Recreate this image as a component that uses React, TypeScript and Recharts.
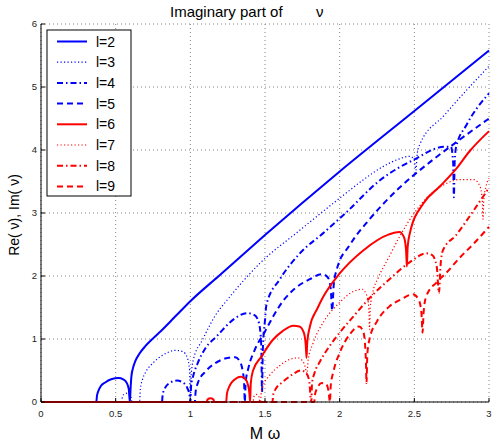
import React from "react";
import { LineChart, Line, XAxis, YAxis, CartesianGrid } from "recharts";

// axis ticks
const xTicks = [0, 0.5, 1, 1.5, 2, 2.5, 3];
const yTicks = [0, 1, 2, 3, 4, 5, 6];

// Im(nu) per l: [M*omega, value]
const l2: [number, number][] = [
  [0, 0], [0.37, 0], [0.375, 0.1], [0.385, 0.18], [0.4, 0.25], [0.43, 0.31], [0.47, 0.36], [0.52, 0.38],
  [0.55, 0.36], [0.575, 0.3], [0.588, 0.2], [0.595, 0], [0.6, 0.22], [0.605, 0.4], [0.615, 0.53], [0.63, 0.64],
  [0.66, 0.77], [0.7, 0.89], [0.75, 1.01], [0.8, 1.12], [0.9, 1.36], [1.0, 1.6], [1.2, 2.02], [1.5, 2.65],
  [2.0, 3.66], [2.5, 4.62], [3.0, 5.58],
];
const l3: [number, number][] = [
  [0, 0], [0.54, 0], [0.545, 0.08], [0.56, 0.13], [0.58, 0.14], [0.6, 0.1], [0.61, 0], [0.66, 0], [0.665, 0.2],
  [0.68, 0.36], [0.7, 0.47], [0.75, 0.62], [0.82, 0.75], [0.9, 0.82], [0.95, 0.8], [0.98, 0.7], [0.995, 0.5], [1.0, 0],
  [1.005, 0.4], [1.02, 0.67], [1.08, 0.98], [1.18, 1.42], [1.24, 1.6], [1.465, 2.2], [1.73, 2.72], [2.04, 3.31],
  [2.16, 3.53], [2.3, 3.75], [2.4, 3.86], [2.47, 3.9], [2.5, 3.84], [2.51, 3.68], [2.52, 3.95], [2.535, 4.08],
  [2.7, 4.55], [2.85, 4.95], [3.0, 5.33],
];
const l4: [number, number][] = [
  [0, 0], [0.81, 0], [0.815, 0.12], [0.83, 0.22], [0.86, 0.3], [0.91, 0.34], [0.95, 0.31], [0.98, 0.22], [0.995, 0.1],
  [1.0, 0], [1.005, 0.25], [1.02, 0.42], [1.05, 0.62], [1.1, 0.85], [1.175, 1.04], [1.3, 1.33], [1.38, 1.41],
  [1.43, 1.38], [1.46, 1.25], [1.475, 0.9], [1.48, 0.15], [1.485, 0.8], [1.5, 1.3], [1.51, 1.55], [1.6, 1.95],
  [1.73, 2.35], [1.9, 2.7], [2.04, 3.0], [2.27, 3.52], [2.5, 3.85], [2.7, 4.05], [2.745, 4.05], [2.76, 3.8],
  [2.765, 3.25], [2.77, 3.8], [2.78, 4.05], [2.85, 4.4], [3.0, 4.9],
];
const l5: [number, number][] = [
  [0, 0], [1.03, 0], [1.035, 0.15], [1.05, 0.3], [1.1, 0.48], [1.17, 0.62], [1.25, 0.7], [1.3, 0.71], [1.33, 0.65],
  [1.35, 0.5], [1.36, 0.3], [1.365, 0], [1.37, 0.3], [1.39, 0.55], [1.43, 0.82], [1.5, 1.12], [1.56, 1.38],
  [1.62, 1.6], [1.7, 1.8], [1.8, 1.95], [1.88, 2.03], [1.92, 1.98], [1.94, 1.8], [1.95, 1.45], [1.96, 1.85],
  [1.98, 2.1], [2.07, 2.5], [2.2, 2.9], [2.4, 3.4], [2.6, 3.8], [2.75, 4.07], [3.0, 4.5],
];
const l6: [number, number][] = [
  [0, 0], [1.11, 0], [1.115, 0.04], [1.135, 0.06], [1.155, 0.04], [1.16, 0], [1.24, 0], [1.245, 0.13], [1.26, 0.24],
  [1.28, 0.32], [1.31, 0.38], [1.34, 0.4], [1.37, 0.36], [1.385, 0.28], [1.395, 0.15], [1.4, 0], [1.405, 0.3],
  [1.42, 0.5], [1.476, 0.72], [1.55, 0.98], [1.62, 1.13], [1.69, 1.21], [1.73, 1.2], [1.76, 1.1], [1.773, 0.9],
  [1.778, 0.7], [1.783, 0.95], [1.8, 1.19], [1.85, 1.48], [1.89, 1.67], [2.0, 2.04], [2.16, 2.41], [2.33, 2.66],
  [2.4, 2.7], [2.43, 2.62], [2.445, 2.4], [2.45, 2.15], [2.455, 2.45], [2.47, 2.68], [2.56, 3.15], [2.67, 3.42],
  [2.78, 3.7], [2.87, 3.98], [3.0, 4.3],
];
const l7: [number, number][] = [
  [0, 0], [1.42, 0], [1.425, 0.08], [1.44, 0.12], [1.46, 0.08], [1.465, 0], [1.47, 0], [1.475, 0.15], [1.49, 0.27],
  [1.53, 0.42], [1.6, 0.58], [1.67, 0.68], [1.72, 0.7], [1.755, 0.64], [1.77, 0.55], [1.78, 0.45], [1.79, 0.68],
  [1.82, 0.92], [1.9, 1.3], [2.0, 1.58], [2.08, 1.74], [2.15, 1.79], [2.18, 1.7], [2.195, 1.5], [2.2, 1.15],
  [2.205, 1.5], [2.22, 1.72], [2.26, 1.98], [2.33, 2.3], [2.4, 2.62], [2.5, 3.0], [2.6, 3.28], [2.7, 3.45],
  [2.8, 3.53], [2.9, 3.53], [2.94, 3.42], [2.955, 3.2], [2.96, 2.9], [2.965, 3.2], [2.98, 3.42], [3.0, 3.55],
];
const l8: [number, number][] = [
  [0, 0], [1.55, 0], [1.555, 0.12], [1.57, 0.2], [1.62, 0.32], [1.68, 0.43], [1.74, 0.5], [1.775, 0.46],
  [1.795, 0.35], [1.81, 0], [1.815, 0.3], [1.83, 0.45], [1.87, 0.65], [1.93, 0.88], [2.0, 1.1], [2.1, 1.38],
  [2.2, 1.65], [2.33, 1.94], [2.47, 2.22], [2.58, 2.36], [2.62, 2.33], [2.65, 2.15], [2.665, 1.73], [2.675, 2.15],
  [2.69, 2.4], [2.78, 2.65], [2.9, 3.05], [3.0, 3.4],
];
const l9: [number, number][] = [
  [0, 0], [1.83, 0], [1.835, 0.12], [1.85, 0.22], [1.88, 0.3], [1.91, 0.28], [1.925, 0.18], [1.935, 0], [1.94, 0.25],
  [1.96, 0.5], [2.0, 0.78], [2.07, 1.08], [2.13, 1.2], [2.16, 1.1], [2.175, 0.7], [2.18, 0.3], [2.185, 0.75],
  [2.2, 1.0], [2.25, 1.28], [2.33, 1.51], [2.42, 1.64], [2.49, 1.71], [2.53, 1.62], [2.548, 1.4], [2.555, 1.1],
  [2.562, 1.42], [2.58, 1.68], [2.65, 1.9], [2.71, 2.04], [2.8, 2.28], [2.9, 2.52], [3.0, 2.78],
];

const toPts = (arr: [number, number][]) => arr.map(([x, y]) => ({ x, y }));

const BLUE = "#0000ff";
const RED = "#ff0000";
const DOT = "1.2 2.3";
const DASH = "6 4";
const DASHDOT = "6 3 1.5 3";

const series = [
  { name: "l=2", pts: l2, color: BLUE, dash: undefined, width: 2 },
  { name: "l=3", pts: l3, color: BLUE, dash: DOT, width: 1.2 },
  { name: "l=4", pts: l4, color: BLUE, dash: DASHDOT, width: 2 },
  { name: "l=5", pts: l5, color: BLUE, dash: DASH, width: 2 },
  { name: "l=6", pts: l6, color: RED, dash: undefined, width: 2 },
  { name: "l=7", pts: l7, color: RED, dash: DOT, width: 1.2 },
  { name: "l=8", pts: l8, color: RED, dash: DASHDOT, width: 2 },
  { name: "l=9", pts: l9, color: RED, dash: DASH, width: 2 },
];

const W = 494;
const H = 444;
const FONT = "'Liberation Sans', Arial, Helvetica, sans-serif";
const tickStyle = { fontSize: 9.5, fill: "#222", fontFamily: FONT };

function LegendBox() {
  return (
    <svg width={86} height={168} style={{ position: "absolute", left: 46, top: 29 }}>
      <rect x={1} y={1} width={84} height={166} fill="#fff" stroke="#000" strokeWidth={1} />
      {series.map((s, i) => {
        const y = 12.5 + i * 20.7;
        return (
          <g key={s.name}>
            <line x1={11} x2={41} y1={y} y2={y} stroke={s.color} strokeWidth={s.width} strokeDasharray={s.dash} />
            <text x={50} y={y + 5} fontSize={14} fontFamily={FONT} fill="#000">{s.name}</text>
          </g>
        );
      })}
    </svg>
  );
}

export default function App() {
  return (
    <div style={{ position: "absolute", left: 0, top: 0, width: W, height: H, background: "#fff", fontFamily: FONT }}>
      <LineChart width={W} height={H} margin={{ top: 24, right: 5, bottom: 0, left: 0 }}>
        <CartesianGrid stroke="#666" strokeDasharray="1 3" strokeWidth={0.8} />
        <XAxis xAxisId={0} dataKey="x" type="number" domain={[0, 3]} ticks={xTicks} height={42}
          allowDuplicatedCategory={false} axisLine={{ stroke: "#000" }} tickLine={{ stroke: "#000" }}
          tickSize={-4} tickMargin={12} tick={tickStyle} />
        <XAxis xAxisId="top" orientation="top" type="number" domain={[0, 3]} ticks={xTicks} height={0}
          axisLine={{ stroke: "#000" }} tickLine={{ stroke: "#000" }} tickSize={-4} tickFormatter={() => ""} />
        <YAxis yAxisId={0} type="number" domain={[0, 6]} ticks={yTicks} width={41}
          axisLine={{ stroke: "#000" }} tickLine={{ stroke: "#000" }} tickSize={-4} tickMargin={8} tick={tickStyle} />
        <YAxis yAxisId="right" orientation="right" type="number" domain={[0, 6]} ticks={yTicks} width={0}
          axisLine={{ stroke: "#000" }} tickLine={{ stroke: "#000" }} tickSize={-4} tickFormatter={() => ""} />
        {series.map((s) => (
          <Line key={s.name} data={toPts(s.pts)} dataKey="y" name={s.name} type="monotone"
            stroke={s.color} strokeWidth={s.width} strokeDasharray={s.dash} dot={false}
            isAnimationActive={false} />
        ))}
      </LineChart>
      <LegendBox />
      <div style={{ position: "absolute", left: 170, top: 3, fontSize: 15, whiteSpace: "pre", color: "#000" }}>
        {"Imaginary part of        ν"}
      </div>
      <div style={{ position: "absolute", left: 14, top: 215, fontSize: 14, whiteSpace: "pre", color: "#000",
        transform: "translate(-50%, -50%) rotate(-90deg)" }}>
        {"Re( ν), Im( ν)"}
      </div>
      <div style={{ position: "absolute", left: 265, top: 434, fontSize: 16, whiteSpace: "pre", color: "#000",
        transform: "translate(-50%, -50%)" }}>
        {"M ω"}
      </div>
    </div>
  );
}
